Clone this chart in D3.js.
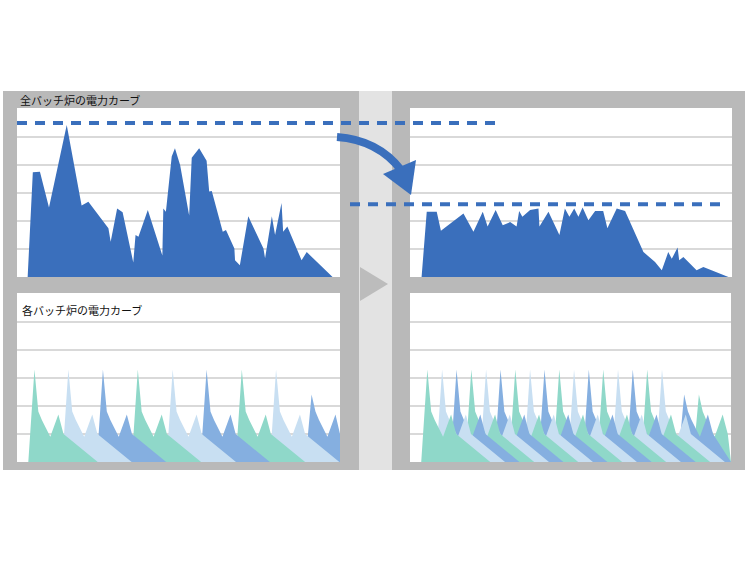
<!DOCTYPE html>
<html><head><meta charset="utf-8">
<script src="https://cdn.jsdelivr.net/npm/d3@7"></script>
<style>body{margin:0;background:#fff}</style></head>
<body><svg id="c" width="748" height="561"></svg>
<script>
// ---- data ----
const titles = ["全バッチ炉の電力カーブ", "各バッチ炉の電力カーブ"];
const beforeT = [3.3,4.9,7.1,9.9,15.4,20,22.1,28.3,29,31,32.7,36,36.7,37.6,40.5,45,45.3,46.1,47.9,48.9,50.5,53.3,54.1,56.4,58.7,59.5,60.3,63.7,64.7,67.3,67.5,69,71.6,76.3,76.8,78.9,79.9,81.9,82.4,83.7,88.1,89.7,97.7];
const beforeV = [0,3.74,3.76,2.48,5.43,2.55,2.69,1.74,1.26,2.45,2.31,0.52,1.5,1.44,2.39,0.77,2.45,2.33,4.3,4.6,4.0,2.2,4.26,4.6,4.15,3.05,3.07,1.62,1.68,1.02,0.6,0.42,2.17,1.02,0.67,2.17,1.5,2.64,1.62,1.8,0.6,0.89,0];
const afterT = [3.6,5.2,8.3,9.6,16.6,19.7,22.6,24.1,26.6,28.8,31.1,33.1,33.9,34.9,37.3,39.9,40.2,43,46.4,48.1,49.5,51,52.3,53.6,55.4,57.5,60,61.3,64.2,66.8,72.5,76.1,78.2,80.2,81.3,83.1,83.6,84.9,89,91.1,98.9];
const afterV = [0,2.33,2.33,1.65,2.27,1.62,2.33,1.8,2.39,1.85,1.96,1.8,2.36,2.15,2.39,2.45,1.8,2.33,1.5,2.45,2.15,2.45,2.15,2.48,2.03,2.36,2.36,1.74,2.45,2.36,0.89,0.54,0.24,0.89,0.65,1.05,0.6,0.71,0.24,0.36,0];
const peakBefore = 5.5, peakAfter = 2.6;
// one batch profile (offset from spike, value)
const profT = [-1.9,0,1.2,2.3,4.9,7.4,9,19.6];
const profV = [0,3.3,1.8,1.5,0.9,1.7,1.0,0];
const spikesLeft = [5.4,15.9,26.6,37.4,48.2,58.7,69.6,80.2,91.2];
const spikeScaleLeft = [1,1,1,1,1,1,1,1,0.73];
const spikesRight = [5.4,10,14.5,19.1,23.7,28.2,32.8,37.4,41.9,46.5,51.1,55.7,60.2,64.8,69.4,73.9,78.5,85.4,90];
const spikeScaleRight = [1,1,1,1,1,1,1,1,1,1,1,1,1,1,1,1,1,0.73,0.73];
const batchColors = ["#8fd8c9","#c8dff2","#85afe0"];

const svg = d3.select("#c");
const GRAY="#b9b9b9", GRID="#d9d9d9", BLUE="#3a6fbc";
svg.append("rect").attr("x",3).attr("y",91).attr("width",356).attr("height",379).attr("fill",GRAY);
svg.append("rect").attr("x",359).attr("y",91).attr("width",33).attr("height",379).attr("fill","#e3e3e3");
svg.append("rect").attr("x",392).attr("y",91).attr("width",353).attr("height",379).attr("fill",GRAY);
svg.append("path").attr("d","M360,267L388,284L360,301Z").attr("fill","#bcbcbc");

const panels = [
 {x0:17,x1:340,y0:108,y1:277},{x0:410,x1:732,y0:108,y1:277},
 {x0:17,x1:340,y0:293,y1:462},{x0:410,x1:731,y0:293,y1:462}];
panels.forEach(p=>{
  svg.append("rect").attr("x",p.x0).attr("y",p.y0).attr("width",p.x1-p.x0).attr("height",p.y1-p.y0).attr("fill","#fff");
  const y=d3.scaleLinear().domain([0,6]).range([p.y1,p.y1-168]);
  p.x=d3.scaleLinear().domain([0,100]).range([p.x0,p.x1]); p.y=y;
  svg.append("g").selectAll("line").data(d3.range(1,6)).join("line")
    .attr("x1",p.x0).attr("x2",p.x1).attr("y1",d=>y(d)).attr("y2",d=>y(d))
    .attr("stroke",GRID).attr("stroke-width",2);
});
function area(p){return d3.area().x(d=>p.x(d[0])).y0(p.y(0)).y1(d=>p.y(d[1]));}
[[panels[0],beforeT,beforeV],[panels[1],afterT,afterV]].forEach(([p,T,V])=>{
  svg.append("path").datum(T.map((t,i)=>[t,V[i]])).attr("d",area(p)).attr("fill",BLUE);
});
function batches(p,spikes,scales){
  const g=svg.append("g");
  for(let i=spikes.length-1;i>=0;i--){
    const s=spikes[i];
    const pts=profT.map((o,j)=>[Math.min(100,s+o), profV[j]*(j===1?scales[i]:1)]);
    g.append("path").datum(pts).attr("d",area(p)).attr("fill",batchColors[i%3]);
  }
}
batches(panels[2],spikesLeft,spikeScaleLeft);
batches(panels[3],spikesRight,spikeScaleRight);
svg.append("line").attr("x1",panels[0].x0).attr("x2",503).attr("y1",panels[0].y(peakBefore)).attr("y2",panels[0].y(peakBefore))
  .attr("stroke",BLUE).attr("stroke-width",4).attr("stroke-dasharray","10,8");
svg.append("line").attr("x1",350).attr("x2",728).attr("y1",panels[1].y(peakAfter)).attr("y2",panels[1].y(peakAfter))
  .attr("stroke",BLUE).attr("stroke-width",4).attr("stroke-dasharray","10,8");
svg.append("path").attr("d","M337,137Q378,140,401,170").attr("fill","none").attr("stroke",BLUE).attr("stroke-width",8);
svg.append("path").attr("d","M416,160L383,174L411,195Z").attr("fill",BLUE);
svg.append("text").attr("x",20).attr("y",105).text(titles[0]).attr("font-family","Noto Sans CJK JP").attr("font-size",11).attr("fill","#111");
svg.append("text").attr("x",22).attr("y",315).text(titles[1]).attr("font-family","Noto Sans CJK JP").attr("font-size",11).attr("fill","#111");
</script></body></html>
